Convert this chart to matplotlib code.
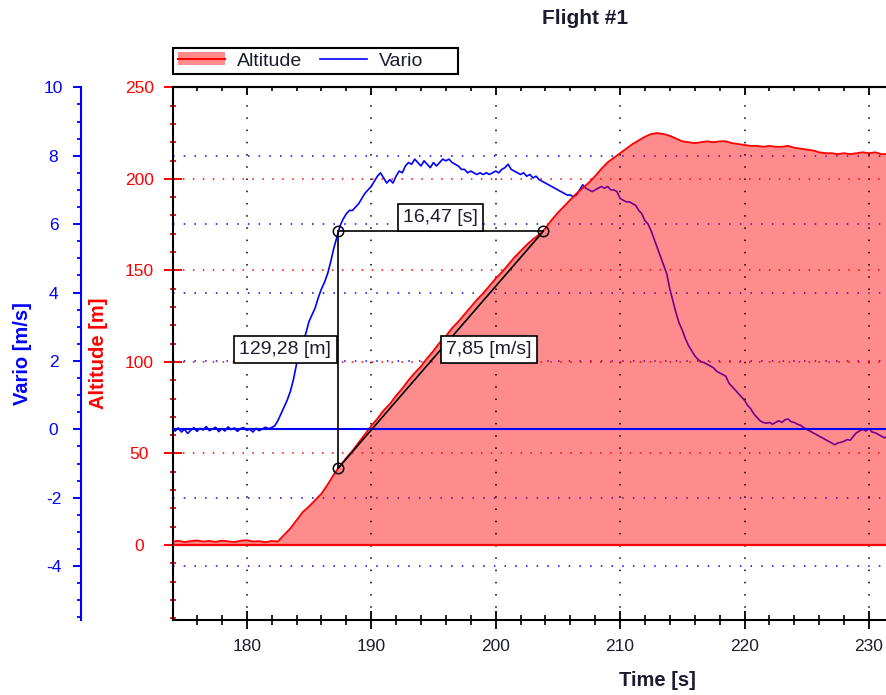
import matplotlib
matplotlib.use('Agg')
import matplotlib.pyplot as plt
from matplotlib.lines import Line2D
from matplotlib.patches import Patch, Rectangle
from matplotlib.ticker import MultipleLocator
from matplotlib.transforms import blended_transform_factory

plt.rcParams['font.family'] = ['Liberation Sans', 'DejaVu Sans']
plt.rcParams['axes.unicode_minus'] = False

# ---------------- data ----------------
alt_time = [174.0, 174.5, 175.0, 175.5, 176.0, 176.5, 177.0, 177.5, 178.0, 178.5,
            179.0, 179.5, 180.0, 180.5, 181.0, 181.5, 182.0, 182.5,
            183.0, 183.5, 184.0, 184.5, 185.0, 185.5, 186.0, 186.5, 187.0, 187.36,
            188.0, 188.5, 189.0, 189.5, 190.0, 190.5, 191.0, 191.5, 192.0, 192.5,
            193.0, 193.5, 194.0, 194.5, 195.0, 195.5, 196.0, 196.5, 197.0, 197.5,
            198.0, 198.5, 199.0, 199.5, 200.0, 200.5, 201.0, 201.5, 202.0, 202.5,
            203.0, 203.5, 204.0, 204.5, 205.0, 205.5, 206.0, 206.5, 207.0, 207.5,
            208.0, 208.5, 209.0, 209.5, 210.0, 210.5, 211.0, 211.5, 212.0, 212.5,
            213.0, 213.5, 214.0, 214.5, 215.0, 215.5, 216.0, 216.5, 217.0, 217.5,
            218.0, 218.5, 219.0, 219.5, 220.0, 220.5, 221.0, 221.5, 222.0, 222.5,
            223.0, 223.5, 224.0, 224.5, 225.0, 225.5, 226.0, 226.5, 227.0, 227.5,
            228.0, 228.5, 229.0, 229.5, 230.0, 230.5, 231.0, 231.5]
altitude = [1.8, 2.3, 1.6, 2.1, 2.5, 1.9, 2.2, 1.7, 2.4, 2.0,
            1.6, 2.3, 2.6, 1.9, 2.1, 1.5, 2.2, 1.9,
            5.5, 9.0, 13.5, 18.0, 21.0, 24.5, 28.0, 33.0, 38.5, 42.0,
            47.5, 51.5, 56.0, 60.5, 65.0, 69.0, 73.5, 77.0, 81.5, 85.5,
            90.0, 94.0, 97.5, 102.0, 106.0, 110.5, 114.0, 118.5, 122.0, 126.0,
            130.0, 134.0, 137.5, 141.5, 145.5, 149.0, 153.0, 157.0, 160.5, 164.0,
            167.0, 169.5, 173.0, 177.5, 181.5, 185.0, 188.5, 192.0, 195.0, 198.0,
            201.5, 205.5, 209.0, 211.5, 214.0, 216.5, 219.0, 221.0, 223.0, 224.5,
            225.0, 224.5, 223.5, 222.0, 220.5, 220.0, 219.5, 220.0, 220.5, 220.0,
            220.5, 220.5, 219.5, 219.0, 218.5, 218.0, 218.0, 217.5, 218.0, 217.5,
            217.5, 218.0, 217.0, 216.5, 216.0, 215.5, 214.5, 214.0, 214.0, 213.5,
            214.0, 213.5, 214.0, 214.5, 214.0, 214.5, 213.5, 213.5]

vario_time = [174.0, 174.25, 174.5, 174.75, 175.0, 175.25, 175.5, 175.75, 176.0, 176.25,
              176.5, 176.75, 177.0, 177.25, 177.5, 177.75, 178.0, 178.25, 178.5, 178.75,
              179.0, 179.25, 179.5, 179.75, 180.0, 180.25, 180.5, 180.75, 181.0, 181.25,
              181.5, 181.75, 182.0, 182.25,
              182.5, 182.75, 183.0, 183.25, 183.5, 183.75, 184.0, 184.25, 184.5, 184.75,
              185.0, 185.25, 185.5, 185.75, 186.0, 186.25, 186.5, 186.75, 187.0, 187.36,
              187.5, 187.75, 188.0, 188.25, 188.5, 188.75, 189.0, 189.25, 189.5, 189.75,
              190.0, 190.25, 190.5, 190.75, 191.0, 191.25, 191.5, 191.75, 192.0, 192.25,
              192.5, 192.75, 193.0, 193.25, 193.5, 193.75, 194.0, 194.25, 194.5, 194.75,
              195.0, 195.25, 195.5, 195.75, 196.0, 196.25, 196.5, 196.75, 197.0, 197.25,
              197.5, 197.75, 198.0, 198.25, 198.5, 198.75, 199.0, 199.25, 199.5, 199.75,
              200.0, 200.25, 200.5, 200.75, 201.0, 201.25, 201.5, 201.75, 202.0, 202.25,
              202.5, 202.75, 203.0, 203.25, 203.5, 203.75, 204.0, 204.25, 204.5, 204.75,
              205.0, 205.25, 205.5, 205.75, 206.0, 206.25, 206.5, 206.75, 207.0, 207.25,
              207.5, 207.75, 208.0, 208.25, 208.5, 208.75, 209.0, 209.25, 209.5, 209.75,
              210.0, 210.25, 210.5, 210.75, 211.0, 211.25, 211.5, 211.75, 212.0, 212.25,
              212.5, 212.75, 213.0, 213.25, 213.5, 213.75, 214.0, 214.25, 214.5, 214.75,
              215.0, 215.25, 215.5, 215.75, 216.0, 216.25, 216.5, 216.75, 217.0, 217.25,
              217.5, 217.75, 218.0, 218.25, 218.5, 218.75, 219.0, 219.25, 219.5, 219.75,
              220.0, 220.25, 220.5, 220.75, 221.0, 221.25, 221.5, 221.75, 222.0, 222.25,
              222.5, 222.75, 223.0, 223.25, 223.5, 223.75, 224.0, 224.25, 224.5, 224.75,
              225.0, 225.25, 225.5, 225.75, 226.0, 226.25, 226.5, 226.75, 227.0, 227.25,
              227.5, 227.75, 228.0, 228.25, 228.5, 228.75, 229.0, 229.25, 229.5, 229.75,
              230.0, 230.25, 230.5, 230.75, 231.0, 231.25, 231.5]
vario = [0.02, -0.05, 0.04, -0.08, 0.0, -0.12, -0.03, 0.05, -0.06, 0.03,
         -0.02, 0.08, -0.04, 0.01, 0.06, -0.07, 0.02, -0.05, 0.07, -0.01,
         0.04, -0.06, 0.02, 0.05, -0.03, 0.0, -0.08, 0.03, -0.04, 0.01,
         0.06, 0.02, 0.05, 0.1,
         0.25, 0.45, 0.65, 0.85, 1.1, 1.45, 1.9, 2.3, 2.55, 2.8,
         3.15, 3.35, 3.55, 3.85, 4.1, 4.3, 4.55, 4.9, 5.3, 5.77,
         5.95, 6.15, 6.3, 6.4, 6.4, 6.5, 6.6, 6.75, 6.9, 7.0,
         7.1, 7.25, 7.4, 7.5, 7.35, 7.2, 7.3, 7.2, 7.4, 7.55,
         7.5, 7.7, 7.8, 7.75, 7.9, 7.8, 7.7, 7.85, 7.75, 7.65,
         7.8, 7.7, 7.8, 7.9, 7.85, 7.9, 7.8, 7.75, 7.7, 7.6,
         7.6, 7.5, 7.55, 7.5, 7.45, 7.5, 7.45, 7.5, 7.45, 7.5,
         7.55, 7.5, 7.6, 7.65, 7.75, 7.6, 7.55, 7.5, 7.45, 7.5,
         7.4, 7.45, 7.35, 7.4, 7.3, 7.25, 7.2, 7.15, 7.1, 7.05,
         7.0, 6.95, 6.9, 6.85, 6.85, 6.8, 6.85, 7.0, 7.15, 7.05,
         7.0, 6.95, 7.0, 7.05, 7.1, 7.05, 7.1, 7.0, 7.0, 6.95,
         6.75, 6.7, 6.65, 6.65, 6.6, 6.55, 6.4, 6.3, 6.1, 6.0,
         5.8, 5.55, 5.3, 5.05, 4.8, 4.55, 4.1, 3.75, 3.4, 3.1,
         2.9, 2.65, 2.45, 2.3, 2.15, 2.05, 1.98, 1.95, 1.9, 1.85,
         1.8, 1.7, 1.65, 1.6, 1.55, 1.35, 1.25, 1.15, 1.05, 0.95,
         0.85, 0.7, 0.6, 0.45, 0.35, 0.25, 0.2, 0.18, 0.2, 0.15,
         0.2, 0.25, 0.2, 0.28, 0.3, 0.22, 0.2, 0.15, 0.12, 0.05,
         0.0, -0.05, -0.1, -0.15, -0.2, -0.25, -0.3, -0.35, -0.4, -0.45,
         -0.4, -0.38, -0.35, -0.3, -0.32, -0.2, -0.1, -0.05, 0.0, -0.05,
         0.02, -0.08, -0.1, -0.15, -0.2, -0.25, -0.2]

# measurement annotation
meas_t0 = 187.36
meas_h0 = 42.06
meas_dt = 16.47
meas_dh = 129.28
meas_rate = 7.85

x_range = (174.1, 231.45)
alt_range = (-40.97, 250)
vario_range = (-5.576, 10)

# ---------------- figure ----------------
W, H = 887, 695
fig = plt.figure(figsize=(W / 100, H / 100), dpi=100)
L, R, T, B = 173.3, 887.0, 87.3, 620.0
ax_v = fig.add_axes([L / W, 1 - B / H, (R - L) / W, (B - T) / H])
ax_a = ax_v.twinx()

RED = '#ff0000'
BLUE = '#0000ff'
TXT = '#1c1c30'

# vario (drawn below the altitude fill)
ax_v.plot(vario_time, vario, color=BLUE, lw=1.2, zorder=2)
ax_v.yaxis.grid(True, which='major', color=BLUE, linestyle=(0, (1, 6)), lw=1.1)

# altitude
ax_a.fill_between(alt_time, 0, altitude, facecolor=(1, 0, 0, 0.45), lw=0, zorder=1)
ax_a.plot(alt_time, altitude, color=RED, lw=1.3, zorder=3)
ax_a.axhline(0, color=RED, lw=1.6, zorder=3)
ax_a.yaxis.grid(True, which='major', color=RED, linestyle=(0, (1, 5.5)), lw=1.1)
ax_a.xaxis.set_visible(True)
ax_a.xaxis.grid(True, which='major', color='black', linestyle=(0, (1, 7)), lw=1.1)

# vario zero line on top of the fill
blend = blended_transform_factory(ax_v.transAxes, ax_v.transData)
ax_a.add_line(Line2D([0, 1], [0, 0], transform=blend, color=BLUE, lw=1.5, zorder=4))

# measurement construction
t0, h0 = meas_t0, meas_h0
t1, h1 = t0 + meas_dt, h0 + meas_dh
ax_a.plot([t0, t1], [h1, h1], color='black', lw=1.2, zorder=5)
ax_a.plot([t0, t0], [h1, h0], color='black', lw=1.2, zorder=5)
ax_a.plot([t0, t1], [h0, h1], color='black', lw=1.2, zorder=5)
ax_a.plot([t0, t0, t1], [h1, h0, h1], linestyle='none', marker='o', ms=7.5,
          mfc='none', mec='black', mew=1.1, zorder=6)

box = dict(boxstyle='square,pad=0.27', fc='white', ec='black', lw=1.2)
fmt = lambda v: f"{v:.2f}".replace('.', ',')
ax_a.annotate(f"{fmt(meas_dt)} [s]", xy=((t0 + t1) / 2, h1), xytext=(0, 4.0),
              textcoords='offset points', ha='center', va='bottom', fontsize=14,
              color=TXT, bbox=box, zorder=7)
ax_a.annotate(f"{fmt(meas_dh)} [m]", xy=(t0, (h0 + h1) / 2), xytext=(-5.0, 0),
              textcoords='offset points', ha='right', va='center', fontsize=14,
              color=TXT, bbox=box, zorder=7)
ax_a.annotate(f"{fmt(meas_rate)} [m/s]", xy=((t0 + t1) / 2, (h0 + h1) / 2), xytext=(3.8, 0),
              textcoords='offset points', ha='left', va='center', fontsize=14,
              color=TXT, bbox=box, zorder=7)

# ---------------- axes styling ----------------
ax_v.set_xlim(*x_range)
ax_v.set_ylim(*vario_range)
ax_a.set_ylim(*alt_range)

for sp in ('right',):
    ax_v.spines[sp].set_visible(False)
    ax_a.spines[sp].set_visible(False)
ax_v.spines['left'].set_position(('outward', (L - 81) * 0.72))
ax_v.spines['left'].set_color(BLUE)
ax_v.spines['left'].set_linewidth(1.5)
ax_v.spines['bottom'].set_linewidth(1.5)
ax_v.spines['top'].set_linewidth(1.5)
ax_a.spines['left'].set_linewidth(1.5)
ax_a.spines['left'].set_color('black')
ax_a.spines['top'].set_linewidth(1.5)
ax_a.spines['bottom'].set_visible(False)

# x axis (bottom, host)
ax_v.xaxis.set_major_locator(MultipleLocator(10))
ax_v.xaxis.set_minor_locator(MultipleLocator(2))
ax_v.tick_params(axis='x', which='both', direction='inout', top=False, colors='black',
                 labelcolor=TXT, labelsize=12.5)
ax_v.tick_params(axis='x', which='major', length=13, width=1.3, pad=7.5)
ax_v.tick_params(axis='x', which='minor', length=7.7, width=1.2)

# x axis (top ticks, twin)
ax_a.tick_params(axis='x', which='both', direction='in', bottom=False, labelbottom=False,
                 top=True, labeltop=False, colors='black')
ax_a.tick_params(axis='x', which='major', length=5.8, width=1.3)
ax_a.tick_params(axis='x', which='minor', length=2.9, width=1.2)

# vario y axis
ax_v.yaxis.set_major_locator(MultipleLocator(2))
ax_v.yaxis.set_minor_locator(MultipleLocator(0.5))
ax_v.tick_params(axis='y', which='both', direction='out', colors=BLUE, labelcolor=BLUE,
                 labelsize=12.5)
ax_v.tick_params(axis='y', which='major', length=5.8, width=1.4, pad=14)
ax_v.tick_params(axis='y', which='minor', length=2.9, width=1.3)
for lbl in ax_v.get_yticklabels():
    lbl.set_ha('center')

# altitude y axis
ax_a.yaxis.tick_left()
ax_a.yaxis.set_label_position('left')
ax_a.yaxis.set_major_locator(MultipleLocator(50))
ax_a.yaxis.set_minor_locator(MultipleLocator(10))
ax_a.tick_params(axis='y', which='both', direction='inout', colors=RED, labelcolor=RED,
                 labelsize=12.5, right=False, labelright=False)
ax_a.tick_params(axis='y', which='major', length=13, width=1.4, pad=17.9)
ax_a.tick_params(axis='y', which='minor', length=4.8, width=1.3)
for lbl in ax_a.get_yticklabels():
    lbl.set_ha('center')

# labels
ax_v.set_ylabel('Vario [m/s]', color=BLUE, fontweight='bold', fontsize=14.5)
ax_v.yaxis.set_label_coords((32 - L) / (R - L), 0.5)
ax_a.set_ylabel('Altitude [m]', color=RED, fontweight='bold', fontsize=14.5)
ax_a.yaxis.set_label_coords((108 - L) / (R - L), 0.5)
ax_v.set_xlabel('Time [s]', color=TXT, fontweight='bold', fontsize=14.5)
ax_v.xaxis.set_label_coords((657 - L) / (R - L), -(671 - B) / (B - T))

fig.text(585 / W, 1 - 18 / H, 'Flight #1', ha='center', va='center',
         fontweight='bold', fontsize=15, color=TXT)

# legend
handles = [(Patch(facecolor=(1, 0, 0, 0.45), edgecolor='none'), Line2D([], [], color=RED, lw=1.5)),
           Line2D([], [], color=BLUE, lw=1.2)]
leg = fig.legend(handles, ['Altitude', 'Vario'], ncol=2, loc='center left',
                 bbox_to_anchor=(172.7 / W, 1 - 61 / H), frameon=False, fontsize=14,
                 handlelength=2.4, handleheight=0.6, handletextpad=0.65,
                 columnspacing=0.9, borderpad=0.27, borderaxespad=0, labelcolor=TXT)
fig.add_artist(Rectangle((172.7 / W, 1 - 74 / H), (458.3 - 172.7) / W, 26.3 / H,
                         transform=fig.transFigure, fill=False, ec='black', lw=1.5))

fig.savefig('out.png', dpi=100)
